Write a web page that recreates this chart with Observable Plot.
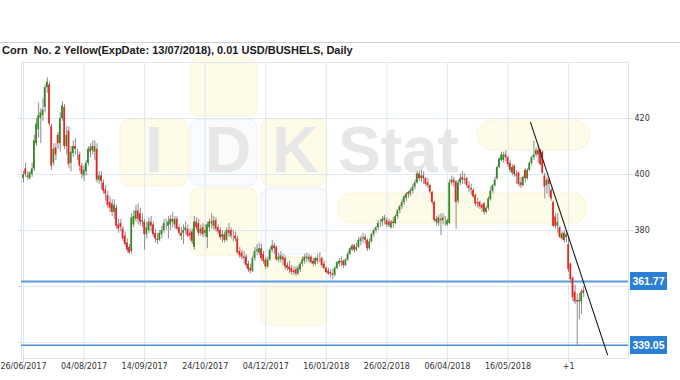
<!DOCTYPE html>
<html><head><meta charset="utf-8">
<script src="https://cdn.jsdelivr.net/npm/d3@7"></script>
<script src="https://cdn.jsdelivr.net/npm/@observablehq/plot@0.6"></script>
<style>
html,body{margin:0;padding:0;background:#fff}
#wrap{position:relative;width:680px;height:380px;overflow:hidden}
#wm{position:absolute;left:0;top:0}
#chart{position:absolute;left:0;top:0}
#topline{position:absolute;left:0;top:42px;width:680px;height:1px;background:#cfcfcf}
#title{position:absolute;left:2px;top:44px;font:bold 11px "Liberation Sans",Arial,sans-serif;color:#1a1a1a;white-space:pre;line-height:13px}
.lvl{position:absolute;left:630px;width:37px;height:18px;background:#2a80d6;color:#fff;font:bold 10.5px "Liberation Sans",Arial,sans-serif;line-height:18px;text-align:center}
</style></head>
<body>
<div id="wrap">
<svg id="wm" width="680" height="380">
  <g fill="#fefbe9" stroke="#fbf4d6" stroke-width="1">
    <rect x="190" y="57" width="67" height="59" rx="9"/>
    <rect x="120" y="119" width="68" height="67" rx="9"/>
    <rect x="261" y="119" width="66" height="67" rx="9"/>
    <rect x="190" y="188" width="67" height="67" rx="9"/>
    <rect x="261" y="257" width="66" height="68" rx="9"/>
    <rect x="477" y="120" width="113" height="30" rx="15"/>
    <rect x="337" y="193" width="250" height="30" rx="15"/>
  </g>
  <g fill="#f9fbfd" stroke="#eaf0f6" stroke-width="1">
    <rect x="190" y="119" width="67" height="67" rx="9"/>
    <rect x="261" y="188" width="66" height="66" rx="9"/>
  </g>
  <g fill="#e7e7e7" font-family="Liberation Sans, Arial, sans-serif" font-weight="bold" font-size="64">
    <text x="145" y="172">I</text>
    <text x="205" y="172">D</text>
    <text x="272" y="172">K</text>
    <text x="338" y="172">Stat</text>
  </g>
</svg>
<div id="chart"></div>
<div id="topline"></div>
<div id="title">Corn  No. 2 Yellow(ExpDate: 13/07/2018), 0.01 USD/BUSHELS, Daily</div>
</div>
<script>
const open = [
398.5,402,399.5,398.5,400,402,411,416,420,421,
424,431,432,417,404,409.5,414,411,420,424,
410,415.5,404,407.5,410,407.5,407,403,399.5,401,
404,408,410,408,409,398,399.5,397,394.5,392.5,
390,389.5,386.5,388,382,382.5,380.5,378,375.5,374,
372.5,382,384,387,386,383.5,383,378.5,380,383,
382,379,377,376.5,378.5,380,382,381.5,382,384,
382,384,381,379,379,380,380.5,379,379.5,374,
383,382.5,379,381,379,377.5,381,383,381.5,383.5,
381,380,377.5,378.5,376.5,380,380,378.5,378,377,
372.5,372,370.5,370.5,368,366.5,365.5,370,372.5,372,
373.5,371.5,369.5,367,369.5,373,374.5,374,369.5,369.5,
370.5,370,367.5,367,366.5,365.5,366,364.5,366,368,
369,370.5,369.5,370.5,369,368,370,370.5,370,368,
366.5,365.5,365,364.5,364,366.5,368,369,369,367.5,
369.5,371.5,373,374.5,373,374,376,377,377.5,376.5,
373.5,376,378.5,380,381,383,383,383.5,383.5,383,
381,383,382.5,385,387,388.5,390,391.5,393.5,393,
394,395.5,397,400.2,398.5,399.5,398.5,397,396,393.5,
390,384,382.5,384,383.5,383,382,382.5,397,398,
397.3,390.5,397,399,398,398.5,396,395,394.3,392.5,
390,390,389,389.5,386.5,388,391,394,396,398.5,
402.5,405,405,407,406,404,400.5,403,400,400.5,
397,396,401.5,398.5,401.5,404,406,407,408.5,408.5,
408,399.5,396,398,394.3,390,384.8,381.5,381,377,
379,377.5,375,368,363,358,355,354.5,354.5,358.5];
const high = [
401,404,401,401,404,414,420,425.5,423.5,427,
432,434.5,433,418,411,411,415,422,426,425,
417,417,410,412,413,409,408,404,403,405,
410,411,412,412,411,401,401,398,396,394,
392,391,391,389,384,384,381.5,379.5,377,375,
386,387,389,389.5,388,386,384,383,384.5,385,
383,380.5,379,380,381.5,384,384,385,385.5,386.5,
385,385,382,381,382,383,382,380.5,380.5,385,
384.5,384,382,382.5,382,383,384,386,385,384.5,
382,381,380,379.5,381,382.5,381,380,379.5,378,
374,373,372.5,371.5,369,368,371,374,375,375.5,
375,372.5,370.5,370.5,374,376.5,375.5,374.5,372,372.5,
371.5,371,368.5,369,367.5,367,367,367.5,368.5,370.5,
371.5,372,371.5,371,370,370.5,371.5,372,370.5,369,
367,366.5,366,366,367,369,370,370.5,369.5,370,
372.5,374,375,375,375.5,377.5,378,379,378.5,377,
377,379,380.5,381.5,383.5,384,385,385.5,384.5,384,
383.6,384.5,385.5,387.5,389,391,392.5,393.5,394,395,
396.5,398,401,401,401.6,401,399,398.5,396.5,394,
390.5,385,385.5,386,386,385,384,398,399.5,399,
397.9,398,400.2,401,400.2,399,397.5,396.5,395,393,
391.5,390.5,389.5,390,388.5,392,395.5,396.5,399,403,
406,408,408,408.5,406.5,405,403.5,403.5,401.5,401,
399,399.5,402,402,404.5,406.5,412,409.5,410.5,409,
408.5,400.5,399,398.5,395,390.5,386,386,381.5,379.5,
380,380,378,368.5,363.5,360.5,357.5,357.5,359,360];
const low = [
397,399,398,398,399,401,410,413,411,419,
422,429,417,401.5,403,405,409,408,419,409,
407,402,401,406,407,405,401,398.5,397.5,399.5,
403,406,407,405,397,396.5,394.5,393,390.5,388,
386.5,385,384,380.5,379,379.5,376,374,372,371.5,
371.5,381,383,382,381.5,381,373,377,379,379.5,
377.5,375.5,375,376,377,379,380,377,380,381,
380.5,380,378,376.5,375,378.5,377.5,376.5,375,373,
380,378,378,377.5,377.5,373.5,379.5,380.5,380,379.5,
378.5,376.5,375.5,375.5,376,377.5,377,376,376,371.5,
370,369.5,368,366.5,365,364.5,365,369,371,371,
369,368,366,366.5,369,372,371.5,369,368.5,368.5,
367.5,366,365.5,364.5,364,364,363.5,364,365,367,
368,368.5,368.5,368,367,367.5,368,368.5,366.5,366,
364.5,364,363,362.5,363.5,366,367,367,366.5,367,
369,371,372.5,372,372.5,373.5,374.5,375.5,375,372.5,
373,375.5,377.5,379,380,381,381.5,382,381,381,
380.5,380.8,382,384,386,387.5,389,390.5,391.5,392,
393,394.5,396.5,397.5,397,396.5,395.5,395,393,389,
383,381.5,381.5,378.2,382,381.5,381.5,382,396,395.5,
380.5,389.5,396,396.5,396.5,395,393.5,392.5,391.5,388.5,
388,387.5,386.5,385.5,386,387,390.5,393,395.5,398,
402,404.5,404,404.5,402.5,400.5,399.5,399,396.5,395.5,
395,395.5,397,398,401,403,405,406,404,403,
400,391.3,393,392,390.5,381,380.5,379,377,376.5,
375.5,375.5,365,361,354.5,353.5,339.05,348,350,356];
const close = [
400,400,399,400.5,402,412,418,421,422,423,
431,433,418,403,409,407,411,420,424.5,410,
414,403.5,408,410,409,407.5,403,400,401.5,404,
409,409.5,408.5,410,398,399.5,397.5,394,393,389,
388,386.5,389,381.5,380.5,381,377,375,373,372,
384.5,385,387,384,383,383,378.5,381,383,381.5,
378.5,377,376.5,379,380,382.5,382,383,384,383,
384,380.5,379,378,380,381,378,378,376,383,
381,379,380.5,378.5,380,382,383,382.5,383.5,380.5,
379.5,377.5,378.5,376.5,380,379,378,378.5,377,372,
371,370.5,370,367.5,366,365.5,370,372.5,373,373.5,
370,369,367,369.5,373,374.5,373.5,369.5,370.5,371,
369.5,367,366.5,366,365,365,364.5,366.5,368,369.5,
370.5,370,370.5,368.5,368,370,369,370.5,367.5,366.5,
365,364.5,364.5,364,366.5,368.5,369,368.5,367.5,369.5,
371.5,373.5,374.5,373,374,376.5,377,377.5,376.5,373.5,
376,378.5,380,381,382.5,383,384,384.5,382,381.8,
383,382.5,385,387,388.5,390,392,393,392.8,394.3,
395.5,397,400.2,398.5,399.5,398.5,396.5,396,393.7,390,
383.6,383,384.5,383.5,384.5,383,383.5,397,398,397,
390,397,398.5,398,398.5,396,395,394.5,392,389.5,
389.5,388.5,388,386.5,388,391.3,394,396,398,402.5,
405.5,407,407,406,403.5,401.5,402.5,400,399.5,396.5,
396,399,398.5,401.5,404,406,407,408.5,407,403.5,
400.5,395.5,398,396.5,391.3,381.5,381.5,383,377.6,378.8,
376.4,378.5,366,362.5,356,354.5,354.5,355,358,357.5];

const tickIdx = [0,28,56,84,112,140,168,196,224,252];
const tickLabels = ["26/06/2017","04/08/2017","14/09/2017","24/10/2017","04/12/2017","16/01/2018","26/02/2018","06/04/2018","16/05/2018","+1"];
const yTicks = [380,400,420];
const yGrid = [340,360,380,400,420];
const levels = [361.77, 339.05];
const trendX = [234.4, 270];
const trendY = [418.6, 335.7];

const bars = close.map((c,i)=>({i, o:open[i], h:high[i], l:low[i], c}));
const trend = trendX.map((x,k)=>({x, y:trendY[k]}));
const kind = d => d.c > d.o ? "up" : d.c < d.o ? "down" : "flat";

const GRID = "#dde8f3";
const chart = Plot.plot({
  width: 680, height: 380,
  marginLeft: 21, marginRight: 52, marginTop: 62, marginBottom: 22,
  style: {background: "transparent", fontFamily: "DejaVu Sans, sans-serif", fontSize: "8px", color: "#333"},
  x: {domain: [-0.92, 279.7], axis: null},
  y: {domain: [334.3, 440], axis: null},
  color: {domain: ["up","down","flat"], range: ["#2f8a1c","#f21b1b","#111111"]},
  marks: [
    Plot.gridY(yGrid, {stroke: GRID, strokeOpacity: 1}),
    Plot.gridX(tickIdx, {stroke: GRID, strokeOpacity: 1}),
    Plot.frame({stroke: "#dfe6ee"}),
    Plot.axisY(yGrid, {anchor: "left", tickSize: 3, tickFormat: () => "", stroke: "#cddcec", label: null}),
    Plot.axisY(yTicks, {anchor: "right", tickSize: 4, tickPadding: 2, stroke: "#cddcec", fill: "#333", label: null, fontSize: 8}),
    Plot.axisX(tickIdx, {anchor: "bottom", tickSize: 4, tickPadding: 1, stroke: "#cddcec", fill: "#333", label: null, fontSize: 8,
      tickFormat: d => tickLabels[tickIdx.indexOf(d)]}),
    Plot.ruleY(levels.slice(0,1), {stroke: "#a9cbef", strokeWidth: 3}),
    Plot.ruleY(levels.slice(0,1), {stroke: "#5b9ade", strokeWidth: 1}),
    Plot.ruleY(levels.slice(1), {stroke: "#4a8fd8", strokeWidth: 1.5}),
    Plot.ruleX(bars, {x: "i", y1: "l", y2: "h", stroke: "#8c8c8c", strokeWidth: 1}),
    Plot.rect(bars, {x1: d => d.i - 0.38, x2: d => d.i + 0.38,
      y1: d => Math.min(d.o, d.c), y2: d => Math.max(d.o, d.c),
      fill: d => kind(d), stroke: d => kind(d) === "flat" ? "#111" : "none", strokeWidth: 1}),
    Plot.line(trend, {x: "x", y: "y", stroke: "#1a1a1a", strokeWidth: 1.1})
  ]
});
document.getElementById("chart").appendChild(chart);

const ys = chart.scale("y");
for (const v of levels) {
  const d = document.createElement("div");
  d.className = "lvl";
  d.style.top = (ys.apply(v) - 9) + "px";
  d.textContent = v.toFixed(2);
  document.getElementById("wrap").appendChild(d);
}
</script>
</body></html>
